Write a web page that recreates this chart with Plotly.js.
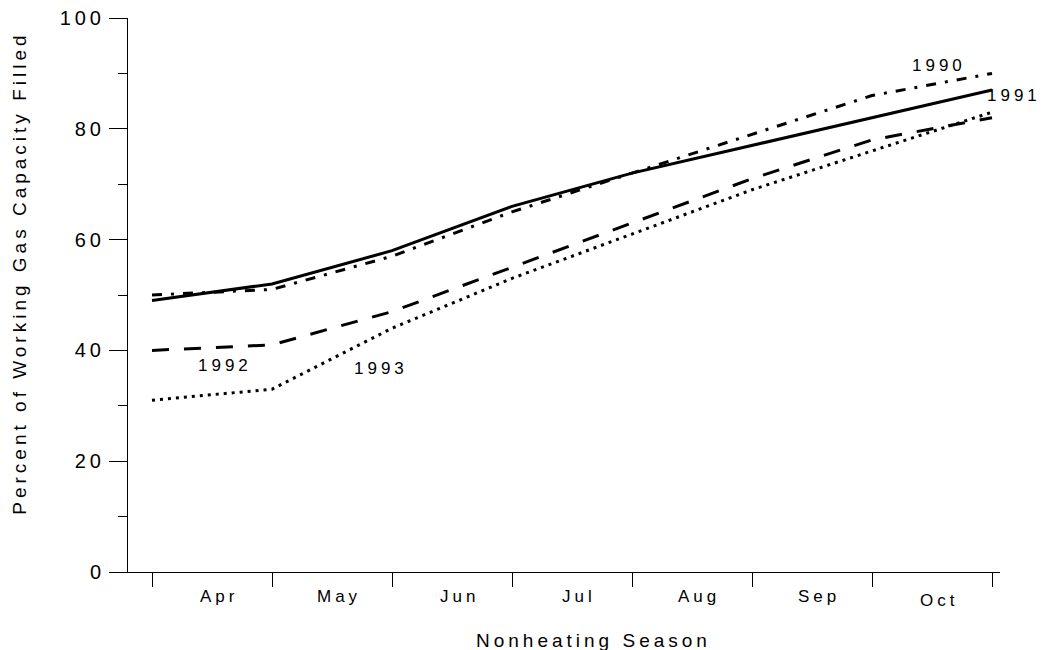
<!DOCTYPE html>
<html>
<head>
<meta charset="utf-8">
<script src="https://cdn.plot.ly/plotly-3.0.1.min.js"></script>
<style>
html,body{margin:0;padding:0;background:#fff;}
#chart{width:1045px;height:650px;}
.main-svg text{letter-spacing:4px;}
</style>
</head>
<body>
<div id="chart"></div>
<script>
// Month boundaries (start of Apr ... end of Oct)
var points = [0, 1, 2, 3, 4, 5, 6, 7];
var months = ["Apr", "May", "Jun", "Jul", "Aug", "Sep", "Oct"];
var yearNames = ["1990", "1991", "1992", "1993"];
var y1990 = [50, 51, 57, 65, 72, 79, 86, 90];
var y1991 = [49, 52, 58, 66, 72, 77, 82, 87];
var y1992 = [40, 41, 47, 55, 63, 71, 78, 82];
var y1993 = [31, 33, 44, 53, 61, 69, 76, 83];
var yTicks = [0, 20, 40, 60, 80, 100];

var FONT = "Liberation Sans, Arial, Helvetica, sans-serif";
var series = [y1990, y1991, y1992, y1993];
var dashes = ["10px,9px,3px,9px", "solid", "17px,15px", "3px,5px"];

var traces = series.map(function (ys, i) {
  return {
    x: points, y: ys, type: "scatter", mode: "lines", name: yearNames[i],
    line: {color: "#000", width: 3, dash: dashes[i]},
    hoverinfo: "skip"
  };
});

var annotations = [];
months.forEach(function (m, i) {
  annotations.push({
    x: points[i] + 0.5, xref: "x", y: -0.0434, yref: "paper",
    text: m, showarrow: false, xanchor: "center", yanchor: "middle",
    xshift: 7, yshift: (m === "Oct" ? -4 : 0),
    font: {family: FONT, size: 17, color: "#000"}
  });
});
// year labels
var labelPos = [
  {x: 6.54, y: 91.4, xa: "center", xs: 2},
  {x: 7.01, y: 86.0, xa: "left", xs: 0},
  {x: 0.59, y: 37.2, xa: "center", xs: 2},
  {x: 1.89, y: 36.7, xa: "center", xs: 2}
];
yearNames.forEach(function (t, i) {
  annotations.push({
    x: labelPos[i].x, y: labelPos[i].y, xref: "x", yref: "y",
    text: t, showarrow: false, xanchor: labelPos[i].xa, yanchor: "middle",
    xshift: labelPos[i].xs,
    font: {family: FONT, size: 17, color: "#000"}
  });
});
annotations.push({
  x: -0.1239, xref: "paper", y: 0.5438, yref: "paper",
  text: "Percent of Working Gas Capacity Filled", textangle: -90,
  showarrow: false, xanchor: "center", yanchor: "middle", yshift: -2,
  font: {family: FONT, size: 19, color: "#000"}
});
annotations.push({
  x: 0.532, xref: "paper", y: -0.1229, yref: "paper",
  text: "Nonheating Season", showarrow: false,
  xanchor: "center", yanchor: "middle", xshift: 2,
  font: {family: FONT, size: 19, color: "#000"}
});

var layout = {
  width: 1045, height: 650,
  margin: {l: 128, r: 45, t: 18, b: 78, pad: 0},
  paper_bgcolor: "#fff", plot_bgcolor: "#fff",
  showlegend: false,
  font: {family: FONT, size: 17, color: "#000"},
  xaxis: {
    range: [-0.2, 7.0667], showgrid: false, zeroline: false,
    showline: true, linecolor: "#000", linewidth: 1,
    tickmode: "array", tickvals: points, ticktext: points.map(function () { return ""; }),
    ticks: "outside", ticklen: 14, tickcolor: "#000", tickwidth: 1
  },
  yaxis: {
    range: [0, 100], showgrid: false, zeroline: false,
    showline: true, linecolor: "#000", linewidth: 1,
    tickmode: "array", tickvals: yTicks,
    ticks: "outside", ticklen: 18, tickcolor: "#000", tickwidth: 1,
    tickfont: {family: FONT, size: 20, color: "#000"},
    minor: {tickmode: "linear", tick0: 10, dtick: 20, ticks: "outside", ticklen: 9, tickcolor: "#000", tickwidth: 1, showgrid: false}
  },
  annotations: annotations
};

Plotly.newPlot("chart", traces, layout, {displayModeBar: false, staticPlot: true});
</script>
</body>
</html>
